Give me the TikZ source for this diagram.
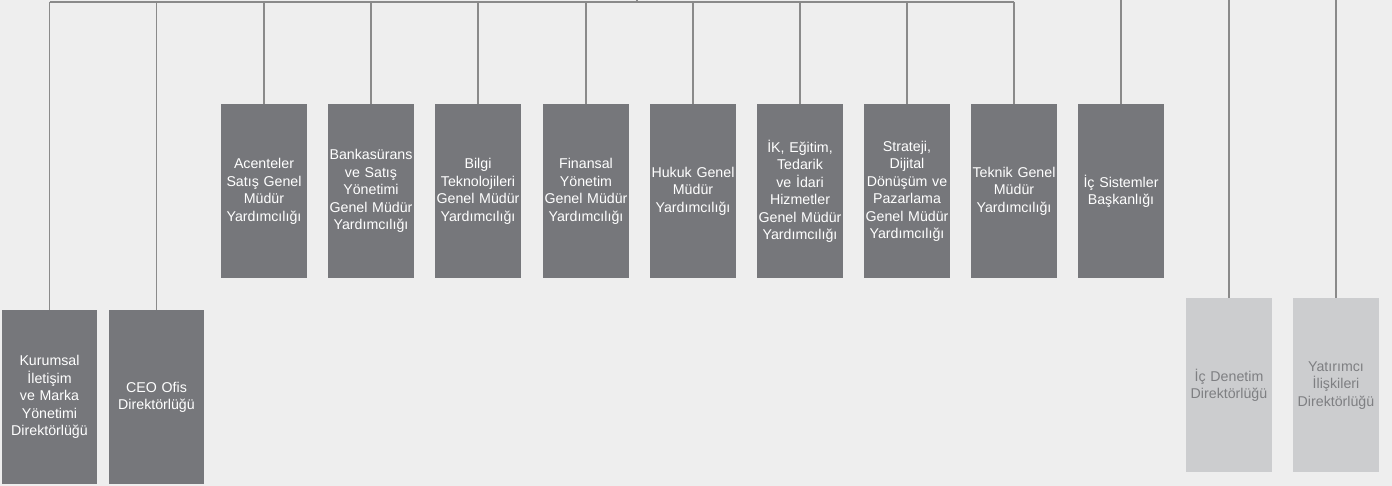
\documentclass[tikz,border=0pt]{standalone}
\usepackage{fontspec}
\setmainfont{Liberation Sans}
\definecolor{bg}{HTML}{EEEEEE}
\definecolor{darkbox}{HTML}{76777B}
\definecolor{lightbox}{HTML}{CCCDCF}
\definecolor{lighttext}{HTML}{7E7F82}
\definecolor{linecol}{HTML}{8A8A8A}
\tikzset{
  unit/.style={inner sep=0pt, minimum height=174pt, align=center,
    font=\fontsize{14.2pt}{17.5pt}\selectfont},
  darkunit/.style={unit, fill=darkbox, text=white, minimum width=86pt, text width=86pt},
  widedark/.style={unit, fill=darkbox, text=white, minimum width=95pt, text width=95pt},
  lightunit/.style={unit, fill=lightbox, text=lighttext, minimum width=86pt, text width=86pt},
  conn/.style={draw=linecol, line width=1.3pt}
}
\begin{document}
\begin{tikzpicture}[x=1pt,y=-1pt]
\fill[bg] (0,0) rectangle (1392,486);
\useasboundingbox (0,0) rectangle (1392,486);

% bottom-left units
\node[widedark, anchor=north] (kur) at (49.5,310) {Kurumsal\\İletişim\\ve Marka\\Yönetimi\\Direktörlüğü};
\node[widedark, anchor=north] (ceo) at (156.5,310) {CEO Ofis\\Direktörlüğü};

% top row
\node[darkunit, anchor=north] (acn) at (264,104) {Acenteler\\Satış Genel\\Müdür\\Yardımcılığı};
\node[darkunit, anchor=north] (bnk) at (371,104) {Bankasürans\\ve Satış\\Yönetimi\\Genel Müdür\\Yardımcılığı};
\node[darkunit, anchor=north] (blg) at (478,104) {Bilgi\\Teknolojileri\\Genel Müdür\\Yardımcılığı};
\node[darkunit, anchor=north] (fin) at (586,104) {Finansal\\Yönetim\\Genel Müdür\\Yardımcılığı};
\node[darkunit, anchor=north] (huk) at (693,104) {Hukuk Genel\\Müdür\\Yardımcılığı};
\node[darkunit, anchor=north] (ik) at (800,104) {İK, Eğitim,\\Tedarik\\ve İdari\\Hizmetler\\Genel Müdür\\Yardımcılığı};
\node[darkunit, anchor=north] (str) at (907,104) {Strateji,\\Dijital\\Dönüşüm ve\\Pazarlama\\Genel Müdür\\Yardımcılığı};
\node[darkunit, anchor=north] (tek) at (1014,104) {Teknik Genel\\Müdür\\Yardımcılığı};
\node[darkunit, anchor=north] (ics) at (1121,104) {İç Sistemler\\Başkanlığı};

% light units
\node[lightunit, anchor=north] (icd) at (1229,298) {İç Denetim\\Direktörlüğü};
\node[lightunit, anchor=north] (yat) at (1336,298) {Yatırımcı\\İlişkileri\\Direktörlüğü};

% bus and coordinates
\coordinate (bus) at (0,2);
\coordinate (topedge) at (0,0);
\coordinate (root) at (637,0);
\coordinate (rootbus) at (637,2);

\draw[conn] (kur.north |- bus) -- (tek.north |- bus);
\draw[conn] (root) -- (rootbus);
\foreach \n in {kur,ceo,acn,bnk,blg,fin,huk,ik,str,tek}
  \draw[conn] (\n.north |- bus) -- (\n.north);
\foreach \n in {ics,icd,yat}
  \draw[conn] (\n.north |- topedge) -- (\n.north);
\end{tikzpicture}
\end{document}
